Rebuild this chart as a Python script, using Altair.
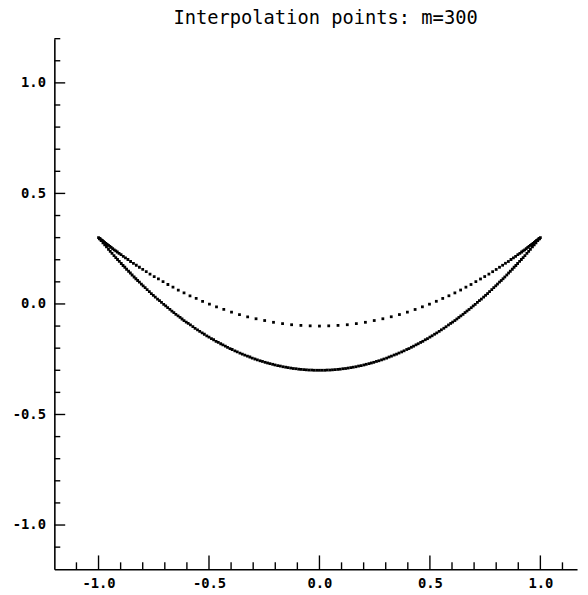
import altair as alt
import pandas as pd

title_text = "Interpolation points: m=300"

# upper (inner) boundary of the crescent, left to right
upper_x = [-0.996, -0.992, -0.988, -0.983, -0.978, -0.973, -0.967, -0.961, -0.955, -0.949,
           -0.943, -0.936, -0.929, -0.922, -0.915, -0.907, -0.898, -0.888, -0.878, -0.867,
           -0.855, -0.842, -0.829, -0.815, -0.800, -0.784, -0.767, -0.748, -0.729, -0.708,
           -0.686, -0.663, -0.639, -0.613, -0.586, -0.558, -0.529, -0.498, -0.466, -0.433,
           -0.398, -0.362, -0.325, -0.287, -0.248, -0.208, -0.167, -0.126, -0.084, -0.042,
           0.0,
           0.042, 0.084, 0.126, 0.167, 0.208, 0.248, 0.287, 0.325, 0.362, 0.398,
           0.433, 0.466, 0.498, 0.529, 0.558, 0.586, 0.613, 0.639, 0.663, 0.686,
           0.708, 0.729, 0.748, 0.767, 0.784, 0.800, 0.815, 0.829, 0.842, 0.855,
           0.867, 0.878, 0.888, 0.898, 0.907, 0.915, 0.922, 0.929, 0.936, 0.943,
           0.949, 0.955, 0.961, 0.967, 0.973, 0.978, 0.983, 0.988, 0.992, 0.996]
upper_y = [0.297, 0.294, 0.290, 0.287, 0.283, 0.279, 0.274, 0.269, 0.265, 0.260,
           0.256, 0.250, 0.245, 0.240, 0.235, 0.229, 0.223, 0.215, 0.208, 0.201,
           0.192, 0.184, 0.175, 0.166, 0.156, 0.146, 0.135, 0.124, 0.113, 0.101,
           0.088, 0.076, 0.063, 0.050, 0.037, 0.025, 0.012, -0.001, -0.013, -0.025,
           -0.037, -0.048, -0.058, -0.067, -0.075, -0.083, -0.089, -0.094, -0.097, -0.099,
           -0.100,
           -0.099, -0.097, -0.094, -0.089, -0.083, -0.075, -0.067, -0.058, -0.048, -0.037,
           -0.025, -0.013, -0.001, 0.012, 0.025, 0.037, 0.050, 0.063, 0.076, 0.088,
           0.101, 0.113, 0.124, 0.135, 0.146, 0.156, 0.166, 0.175, 0.184, 0.192,
           0.201, 0.208, 0.215, 0.223, 0.229, 0.235, 0.240, 0.245, 0.250, 0.256,
           0.260, 0.265, 0.269, 0.274, 0.279, 0.283, 0.287, 0.290, 0.294, 0.297]

# lower (outer) boundary of the crescent, left to right
lower_x = [-1.000, -0.996, -0.988, -0.980, -0.972, -0.964, -0.955, -0.947, -0.939, -0.930,
           -0.922, -0.914, -0.906, -0.897, -0.889, -0.881, -0.873, -0.864, -0.856, -0.848,
           -0.839, -0.831, -0.823, -0.815, -0.806,
           -0.798, -0.789, -0.780, -0.770, -0.761, -0.752, -0.743, -0.733, -0.724, -0.715,
           -0.705, -0.696, -0.687, -0.677, -0.668, -0.659, -0.650, -0.640, -0.631, -0.622,
           -0.613, -0.603,
           -0.594, -0.584, -0.573, -0.563, -0.552, -0.542, -0.531, -0.521, -0.510, -0.500,
           -0.489, -0.479, -0.468, -0.458, -0.447, -0.437, -0.426, -0.416, -0.405,
           -0.395, -0.383, -0.372, -0.360, -0.349, -0.338, -0.326, -0.315, -0.304, -0.292,
           -0.281, -0.269, -0.258, -0.246, -0.235, -0.224, -0.212,
           -0.201, -0.189, -0.177, -0.165, -0.153, -0.142, -0.130, -0.118, -0.106, -0.094,
           -0.083, -0.071, -0.059, -0.047, -0.035, -0.024, -0.012,
           0.0,
           0.012, 0.024, 0.035, 0.047, 0.059, 0.071, 0.083, 0.094, 0.106, 0.118,
           0.130, 0.142, 0.153, 0.165, 0.177, 0.189, 0.201,
           0.212, 0.224, 0.235, 0.246, 0.258, 0.269, 0.281, 0.292, 0.304, 0.315,
           0.326, 0.338, 0.349, 0.360, 0.372, 0.383, 0.395,
           0.405, 0.416, 0.426, 0.437, 0.447, 0.458, 0.468, 0.479, 0.489, 0.500,
           0.510, 0.521, 0.531, 0.542, 0.552, 0.563, 0.573, 0.584, 0.594,
           0.603, 0.613, 0.622, 0.631, 0.640, 0.650, 0.659, 0.668, 0.677, 0.687,
           0.696, 0.705, 0.715, 0.724, 0.733, 0.743, 0.752, 0.761, 0.770, 0.780,
           0.789, 0.798,
           0.806, 0.815, 0.823, 0.831, 0.839, 0.848, 0.856, 0.864, 0.873, 0.881,
           0.889, 0.897, 0.906, 0.914, 0.922, 0.930, 0.939, 0.947, 0.955, 0.964,
           0.972, 0.980, 0.988, 0.996, 1.000]
lower_y = [0.300, 0.295, 0.286, 0.276, 0.267, 0.258, 0.247, 0.238, 0.229, 0.219,
           0.210, 0.201, 0.193, 0.183, 0.174, 0.166, 0.157, 0.148, 0.140, 0.131,
           0.122, 0.114, 0.106, 0.099, 0.090,
           0.082, 0.074, 0.065, 0.056, 0.047, 0.039, 0.031, 0.022, 0.015, 0.007,
           -0.002, -0.009, -0.017, -0.025, -0.032, -0.039, -0.047, -0.054, -0.061, -0.068,
           -0.075, -0.082,
           -0.088, -0.095, -0.103, -0.110, -0.117, -0.124, -0.131, -0.137, -0.144, -0.150,
           -0.157, -0.162, -0.169, -0.174, -0.180, -0.185, -0.191, -0.196, -0.202,
           -0.206, -0.212, -0.217, -0.222, -0.227, -0.231, -0.236, -0.240, -0.245, -0.249,
           -0.253, -0.257, -0.260, -0.264, -0.267, -0.270, -0.273,
           -0.276, -0.279, -0.281, -0.284, -0.286, -0.288, -0.290, -0.292, -0.293, -0.295,
           -0.296, -0.297, -0.298, -0.299, -0.299, -0.300, -0.300,
           -0.300,
           -0.300, -0.300, -0.299, -0.299, -0.298, -0.297, -0.296, -0.295, -0.293, -0.292,
           -0.290, -0.288, -0.286, -0.284, -0.281, -0.279, -0.276,
           -0.273, -0.270, -0.267, -0.264, -0.260, -0.257, -0.253, -0.249, -0.245, -0.240,
           -0.236, -0.231, -0.227, -0.222, -0.217, -0.212, -0.206,
           -0.202, -0.196, -0.191, -0.185, -0.180, -0.174, -0.169, -0.162, -0.157, -0.150,
           -0.144, -0.137, -0.131, -0.124, -0.117, -0.110, -0.103, -0.095, -0.088,
           -0.082, -0.075, -0.068, -0.061, -0.054, -0.047, -0.039, -0.032, -0.025, -0.017,
           -0.009, -0.002, 0.007, 0.015, 0.022, 0.031, 0.039, 0.047, 0.056, 0.065,
           0.074, 0.082,
           0.090, 0.099, 0.106, 0.114, 0.122, 0.131, 0.140, 0.148, 0.157, 0.166,
           0.174, 0.183, 0.193, 0.201, 0.210, 0.219, 0.229, 0.238, 0.247, 0.258,
           0.267, 0.276, 0.286, 0.295, 0.300]

x_major = [-1.0, -0.5, 0.0, 0.5, 1.0]
x_minor = [-1.1, -0.9, -0.8, -0.7, -0.6, -0.4, -0.3, -0.2, -0.1,
           0.1, 0.2, 0.3, 0.4, 0.6, 0.7, 0.8, 0.9, 1.1]
y_major = [-1.0, -0.5, 0.0, 0.5, 1.0]
y_minor = [-1.1, -0.9, -0.8, -0.7, -0.6, -0.4, -0.3, -0.2, -0.1,
           0.1, 0.2, 0.3, 0.4, 0.6, 0.7, 0.8, 0.9, 1.1, 1.2]

W, H = 530, 538
FONT = "DejaVu Sans Mono"

xs = alt.Scale(domain=[-1.2, 1.166], nice=False, zero=False)
ys = alt.Scale(domain=[-1.2, 1.2], nice=False, zero=False)

label_expr = "(datum.value < 0 ? '-' : '') + format(abs(datum.value), '.1f')"

xaxis = alt.Axis(values=x_major, ticks=False, grid=False, title=None,
                 domainColor="black", domainWidth=1.6, labelFont=FONT, labelFontSize=14,
                 labelFontWeight="bold", labelColor="black", labelPadding=8,
                 labelExpr=label_expr, labelFlush=False)
yaxis = alt.Axis(values=y_major, ticks=False, grid=False, title=None,
                 domainColor="black", domainWidth=1.6, labelFont=FONT, labelFontSize=14,
                 labelFontWeight="bold", labelColor="black", labelPadding=9,
                 labelExpr=label_expr, labelFlush=False)

pts = pd.DataFrame({"x": upper_x + lower_x, "y": upper_y + lower_y})

points = alt.Chart(pts).mark_square(size=8, color="black", opacity=1, clip=True).encode(
    x=alt.X("x:Q", scale=xs, axis=xaxis),
    y=alt.Y("y:Q", scale=ys, axis=yaxis),
)

def xticks(vals, length):
    return alt.Chart(pd.DataFrame({"x": vals})).mark_rule(color="black", strokeWidth=1.4).encode(
        x=alt.X("x:Q", scale=xs, axis=xaxis),
        y=alt.value(H), y2=alt.value(H - length))

def yticks(vals, length):
    return alt.Chart(pd.DataFrame({"y": vals})).mark_rule(color="black", strokeWidth=1.4).encode(
        y=alt.Y("y:Q", scale=ys, axis=yaxis),
        x=alt.value(0), x2=alt.value(length))

chart = alt.layer(
    points,
    xticks(x_major, 14), xticks(x_minor, 7),
    yticks(y_major, 11), yticks(y_minor, 6),
).properties(
    width=W, height=H,
    title=alt.TitleParams(text=title_text, font=FONT, fontSize=19, fontWeight="normal",
                          color="black", anchor="middle", offset=10, dx=10),
    padding={"left": 47, "top": 27, "right": 3, "bottom": 20},
    autosize=alt.AutoSizeParams(type="none"),
).configure_view(stroke=None)

chart.save("out.html", embed_options={"renderer": "svg", "actions": False})
